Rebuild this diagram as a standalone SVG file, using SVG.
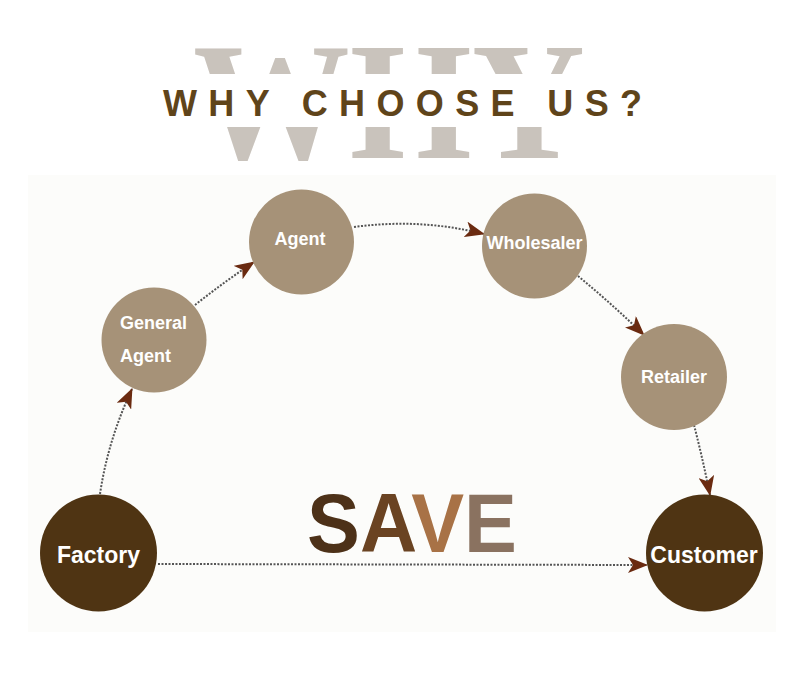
<svg xmlns="http://www.w3.org/2000/svg" width="800" height="679" viewBox="0 0 800 679">
<style>
.lbl{font-family:"Liberation Sans",Arial,sans-serif;font-weight:bold;fill:#ffffff;font-size:18px}
.big{font-size:23px}
.light{fill:#a69278}
.dark{fill:#4f3413}
.con{fill:none;stroke:#555555;stroke-width:2;stroke-dasharray:2 1.5}
</style>
<defs>
<marker id="ah" viewBox="0 0 20 16" markerWidth="20" markerHeight="16" refX="19" refY="8" orient="auto" markerUnits="userSpaceOnUse">
<path d="M0,0 L20,8 L0,16 L5,8 z" fill="#6a2a10"/>
</marker>
</defs>
<rect width="800" height="679" fill="#ffffff"/>
<rect x="28" y="175" width="748" height="457" fill="#fcfcfa"/>
<g id="title">
<text x="193" y="158" font-family="'Liberation Serif','Times New Roman',serif" font-weight="bold" font-size="168" fill="#c9c3bc" textLength="392" lengthAdjust="spacingAndGlyphs">WHY</text>
<rect x="150" y="74" width="500" height="53" fill="#ffffff"/>
<text x="163" y="116" font-family="'Liberation Sans',Arial,sans-serif" font-weight="bold" font-size="36" fill="#5f441a" textLength="479" lengthAdjust="spacing">WHY CHOOSE US?</text>
</g>
<g id="connectors">
<path class="con" d="M100,494 Q108,440 132,389" marker-end="url(#ah)"/>
<path class="con" d="M195,305 Q224,282 254,262" marker-end="url(#ah)"/>
<path class="con" d="M354,227 Q420,218 484,234" marker-end="url(#ah)"/>
<path class="con" d="M578,276 Q612,304 644,335" marker-end="url(#ah)"/>
<path class="con" d="M694,425 Q703,460 710,495" marker-end="url(#ah)"/>
<path class="con" d="M158,564 L647,565" stroke-width="1.6" marker-end="url(#ah)"/>
</g>
<g id="factory">
<circle class="dark" cx="98.5" cy="553" r="58.5"/>
<text class="lbl big" x="98.5" y="563" text-anchor="middle">Factory</text>
</g>
<g id="general-agent">
<circle class="light" cx="154" cy="340" r="52.5"/>
<text class="lbl" x="120" y="329">General</text>
<text class="lbl" x="120" y="362">Agent</text>
</g>
<g id="agent">
<circle class="light" cx="301.5" cy="242" r="52.5"/>
<text class="lbl" x="300" y="245" text-anchor="middle">Agent</text>
</g>
<g id="wholesaler">
<circle class="light" cx="534.5" cy="246" r="52.5"/>
<text class="lbl" x="534.5" y="249" text-anchor="middle">Wholesaler</text>
</g>
<g id="retailer">
<circle class="light" cx="674" cy="377" r="53"/>
<text class="lbl" x="674" y="383" text-anchor="middle">Retailer</text>
</g>
<g id="customer">
<circle class="dark" cx="704.5" cy="553" r="58.5"/>
<text class="lbl big" x="704" y="563" text-anchor="middle">Customer</text>
</g>
<g id="save">
<text x="307" y="552" font-family="'Liberation Sans',Arial,sans-serif" font-weight="bold" font-size="84" textLength="210" lengthAdjust="spacingAndGlyphs"><tspan fill="#4d3118">S</tspan><tspan fill="#6a4322">A</tspan><tspan fill="#a87246">V</tspan><tspan fill="#8a7260">E</tspan></text>
</g>
</svg>
